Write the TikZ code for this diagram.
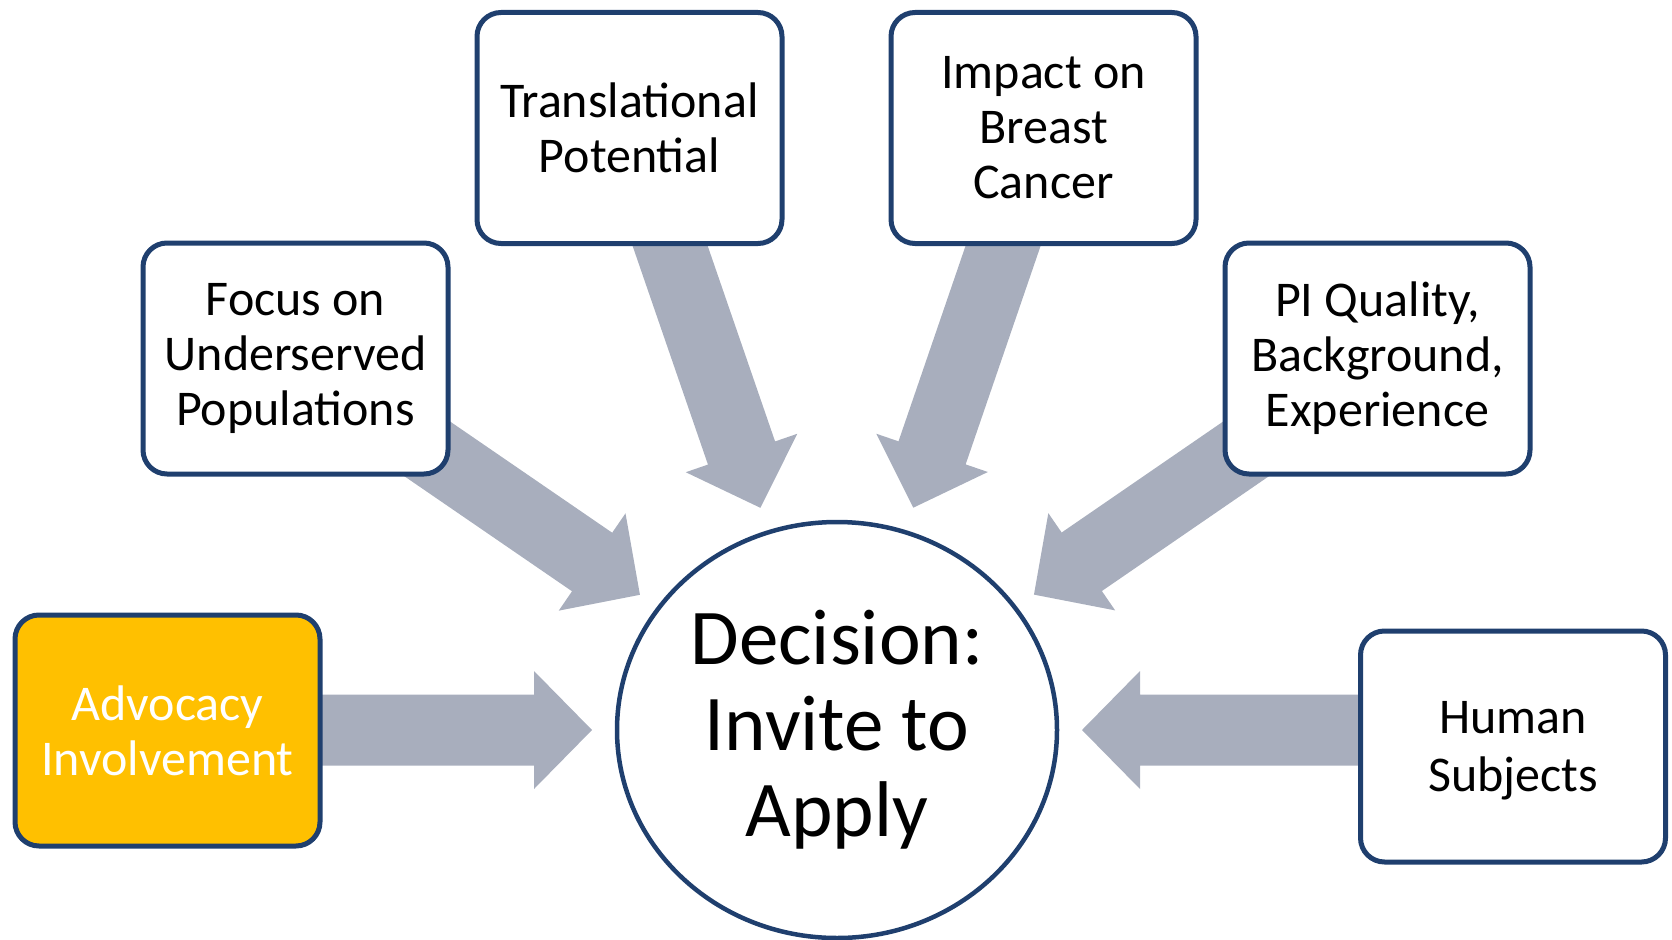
\documentclass[tikz,border=0pt]{standalone}
\usepackage{fontspec}
\setmainfont{Carlito}
\usetikzlibrary{calc,shapes.geometric}
\definecolor{boxline}{RGB}{31,63,110}
\definecolor{arrowfill}{RGB}{168,174,189}
\definecolor{gold}{RGB}{255,192,0}
\pgfdeclarelayer{bg}
\pgfsetlayers{bg,main}
% #1 name, #2 source coordinate, #3 distance of tip from centre
\newcommand\blockarrow[3]{%
  \coordinate (#1tip) at ($(dec)!#3!(#2)$);
  \coordinate (#1hb) at ($(#1tip)!58pt!(#2)$);
  \fill[arrowfill] ($(#2)!35.5pt!90:(#1tip)$) -- ($(#1hb)!35.5pt!-90:(#2)$)
    -- ($(#1hb)!59pt!-90:(#2)$) -- (#1tip) -- ($(#1hb)!59pt!90:(#2)$)
    -- ($(#1hb)!35.5pt!90:(#2)$) -- ($(#2)!35.5pt!-90:(#1tip)$) -- cycle;
}
\tikzset{
  box/.style={draw=boxline, line width=5pt, fill=white, rounded corners=24pt,
    minimum width=305pt, minimum height=231pt, inner sep=0pt, align=center,
    font=\fontsize{50}{55}\selectfont},
  decision/.style={ellipse, draw=boxline, line width=4.5pt, fill=white,
    minimum width=440pt, minimum height=416pt, inner sep=0pt, align=center,
    font=\fontsize{79}{86}\selectfont}
}
\begin{document}
\begin{tikzpicture}[x=1pt, y=-1pt]
\useasboundingbox (0,0) rectangle (1672,939);
\clip (0,0) rectangle (1672,939);
\node[decision] (dec) at (837,730) {Decision:\\Invite to\\Apply};
\node[box, fill=gold, text=white] (adv) at (167.5,730.5) {Advocacy\\Involvement};
\node[box] (focus) at (295.5,358.5) {Focus on\\Underserved\\Populations};
\node[box] (trans) at (629.5,128) {Translational\\Potential};
\node[box] (impact) at (1043.5,128) {Impact on\\Breast\\Cancer};
\node[box] (pi) at (1377.5,358.5) {PI Quality,\\Background,\\Experience};
\node[box, font=\fontsize{50}{58}\selectfont, text depth=0pt] (hum) at (1513,746.5) {Human\\Subjects};
\coordinate (advsrc) at (adv.center |- dec.center);
\coordinate (humsrc) at (hum.center |- dec.center);
\begin{pgfonlayer}{bg}
  \blockarrow{a1}{advsrc}{245pt}
  \blockarrow{a2}{focus}{239pt}
  \blockarrow{a3}{trans}{235pt}
  \blockarrow{a4}{impact}{235pt}
  \blockarrow{a5}{pi}{239pt}
  \blockarrow{a6}{humsrc}{245pt}
\end{pgfonlayer}
\end{tikzpicture}
\end{document}
